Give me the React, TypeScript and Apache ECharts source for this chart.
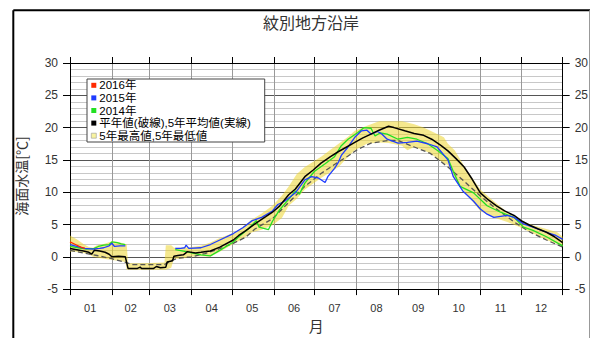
import React, { useEffect, useRef } from 'react';
import * as echarts from 'echarts';

// ---- axis / tick data ----
const MONTH_LABELS = ['01', '02', '03', '04', '05', '06', '07', '08', '09', '10', '11', '12'];
const MONTH_START_DAYS = [0, 31, 59, 90, 120, 151, 181, 212, 243, 273, 304, 334, 365];
const MONTH_MID_DAYS = [15, 45, 74, 105, 135, 166, 196, 227, 258, 288, 319, 349];
const DAY_COUNT = 366;
const Y_MIN = -5;
const Y_MAX = 30;
const Y_STEP = 5;

// ---- series data: [dayOfYear, seaSurfaceTemp] ----
const RED_2016 = [[0, 2.3], [4, 1.9], [8, 1.5], [11, 1.3]];

const BLUE_2015_WINTER = [[0, 1.9], [5, 1.6], [11, 1.3], [17, 1.2], [22, 1.3], [25, 1.4], [29, 1.7], [31, 2.1], [33, 1.6], [37, 1.7], [41, 1.7]];
const BLUE_2015_MAIN = [[78, 1.3], [82, 1.3], [85, 1.4], [86, 1.8], [88, 1.3], [97, 1.4], [104, 1.9], [111, 2.6], [121, 3.6], [128, 4.5], [135, 5.6], [142, 6.1], [150, 7.1], [154, 8.1], [159, 8.6], [167, 9.9], [174, 11.9], [179, 12.4], [184, 12.2], [189, 11.5], [191, 12.4], [196, 13.7], [199, 14.7], [201, 15.7], [206, 17.0], [211, 18.5], [216, 19.5], [220, 19.6], [223, 19.0], [228, 19.4], [231, 19.0], [235, 18.2], [243, 17.6], [250, 17.7], [257, 17.9], [265, 17.5], [272, 17.0], [280, 15.0], [284, 12.4], [291, 10.2], [299, 8.6], [304, 7.4], [309, 6.6], [314, 6.1], [324, 6.4], [329, 6.1], [336, 5.1], [343, 4.6], [353, 3.8], [360, 3.3], [365, 2.7]];

const GREEN_2014_WINTER = [[0, 1.6], [6, 1.4], [12, 1.2], [18, 1.3], [21, 1.6], [25, 1.8], [29, 1.9], [31, 2.3], [35, 2.2], [38, 2.0], [41, 1.9]];
const GREEN_2014_MAIN = [[78, 1.1], [86, 0.8], [97, 0.3], [104, 0.15], [111, 1.0], [121, 2.3], [125, 3.1], [132, 4.3], [138, 5.6], [140, 4.6], [147, 4.2], [150, 5.5], [155, 7.2], [162, 8.9], [167, 10.2], [170, 9.7], [174, 11.4], [181, 13.2], [189, 14.4], [196, 15.5], [201, 17.2], [206, 18.2], [213, 19.2], [218, 20.0], [223, 19.9], [226, 18.7], [230, 19.2], [235, 19.0], [243, 18.2], [250, 18.5], [257, 18.2], [265, 17.5], [272, 16.5], [280, 15.2], [284, 13.2], [289, 10.9], [294, 10.4], [299, 9.9], [309, 7.9], [319, 6.9], [329, 6.1], [336, 4.6], [343, 4.1], [353, 3.1], [365, 1.7]];

const MEAN_5Y = [[0, 1.3], [5, 1.1], [10, 0.9], [14, 0.7], [16, 0.4], [18, 1.0], [22, 0.9], [26, 0.7], [29, 0.4], [31, 0.0], [36, 0.1], [41, 0.0], [43, -1.8], [50, -1.8], [52, -1.6], [53, -1.8], [62, -1.8], [64, -1.5], [67, -1.7], [71, -1.6], [72, -0.8], [76, -0.6], [77, 0.1], [80, 0.2], [84, 0.3], [87, 0.8], [93, 0.6], [97, 0.7], [104, 0.9], [111, 1.5], [121, 2.6], [125, 3.3], [130, 4.0], [137, 5.1], [145, 6.2], [150, 6.9], [155, 7.8], [162, 9.6], [167, 10.5], [174, 12.4], [180, 13.4], [186, 14.5], [193, 15.5], [199, 16.3], [205, 17.0], [211, 17.7], [217, 18.4], [223, 19.0], [229, 19.6], [236, 20.2], [240, 20.0], [248, 19.5], [255, 19.1], [262, 18.8], [268, 18.2], [275, 17.2], [280, 16.4], [286, 15.2], [292, 13.9], [298, 12.0], [304, 9.9], [310, 8.8], [316, 7.9], [322, 7.1], [329, 6.4], [335, 5.5], [341, 4.85], [347, 4.3], [353, 3.8], [359, 3.1], [365, 2.2]];

const NORMAL = [[0, 1.0], [10, 0.6], [20, 0.2], [31, -0.3], [40, -0.8], [46, -1.2], [70, -1.2], [75, -0.6], [80, -0.2], [90, 0.0], [100, 0.5], [110, 1.2], [120, 2.0], [130, 3.0], [137, 4.3], [150, 5.9], [162, 8.4], [174, 10.9], [186, 12.9], [199, 14.7], [206, 15.6], [213, 16.6], [223, 17.6], [236, 18.0], [243, 18.0], [255, 17.0], [267, 16.0], [280, 13.9], [292, 11.7], [304, 9.4], [316, 7.4], [329, 5.4], [341, 3.8], [353, 2.6], [365, 1.5]];

const BAND_DAYS = [0, 5, 10, 14, 17, 20, 25, 31, 36, 41, 42, 43, 55, 70, 71, 75, 77, 82, 90, 97, 104, 111, 121, 128, 135, 142, 150, 157, 162, 168, 174, 186, 199, 206, 211, 220, 229, 236, 246, 250, 255, 262, 267, 277, 280, 285, 294, 304, 314, 324, 333, 343, 353, 361, 365];
const BAND_MIN = [0.8, 0.8, 0.6, 0.4, 0.0, -0.1, -0.3, -0.5, -0.6, -0.8, -2.0, -2.0, -2.0, -2.0, -2.0, -1.7, -0.3, -0.3, 0.0, 0.1, 0.0, 0.8, 2.0, 2.8, 3.8, 4.2, 4.9, 6.0, 7.9, 9.0, 10.4, 12.2, 13.9, 15.5, 16.5, 17.5, 17.7, 17.6, 17.2, 16.5, 17.0, 16.5, 16.0, 14.5, 14.2, 12.0, 9.6, 7.1, 6.1, 5.4, 4.6, 3.6, 2.6, 2.0, 1.6];
const BAND_MAX = [3.3, 2.7, 2.0, 1.5, 1.4, 1.8, 2.0, 2.4, 2.3, 2.0, 2.0, -1.0, -1.0, -0.9, 1.8, 1.8, 1.4, 1.4, 1.5, 1.7, 2.2, 2.9, 3.7, 4.6, 5.8, 6.7, 7.9, 9.5, 10.9, 12.8, 13.9, 15.5, 17.5, 18.6, 19.5, 20.3, 21.0, 21.0, 21.0, 20.8, 20.5, 20.0, 19.5, 18.5, 17.5, 16.5, 13.4, 10.4, 8.6, 6.9, 5.6, 4.9, 4.3, 3.8, 3.1];

const NAME_2016 = '2016年';
const NAME_2015 = '2015年';
const NAME_2014 = '2014年';
const NAME_MEAN = '平年値(破線),5年平均値(実線)';
const NAME_BAND = '5年最高値,5年最低値';

const C_RED = '#ff2a00';
const C_BLUE = '#1f3cff';
const C_GREEN = '#22e022';
const C_BLACK = '#000000';
const C_BAND = 'rgba(236,214,48,0.55)';
const C_BAND_ICON = '#f8f3a0';

const FONT = "'Liberation Sans', 'Noto Sans CJK JP', sans-serif";
const CJK = "'Noto Sans CJK JP', sans-serif";

function withGap(a: number[][], b: number[][]) {
  return [...a, [Math.round((a[a.length - 1][0] + b[0][0]) / 2), null], ...b];
}

export default function App() {
  const ref = useRef<HTMLDivElement>(null);
  useEffect(() => {
    const chart = echarts.init(ref.current!, null, { renderer: 'svg' });
    const days = Array.from({ length: DAY_COUNT }, (_, i) => String(i));
    const startSet = new Set(MONTH_START_DAYS);
    const midMap = new Map(MONTH_MID_DAYS.map((d, i) => [d, MONTH_LABELS[i]]));
    const bandLow = BAND_DAYS.map((d, i) => [d, BAND_MIN[i]]);
    const bandSpan = BAND_DAYS.map((d, i) => [d, +(BAND_MAX[i] - BAND_MIN[i]).toFixed(2)]);

    const yAxisBase = {
      type: 'value',
      min: Y_MIN,
      max: Y_MAX,
      interval: Y_STEP,
      axisLine: { show: true, lineStyle: { color: '#000', width: 1 } },
      axisTick: { show: true, inside: false, length: 7, lineStyle: { color: '#000' } },
      axisLabel: { color: '#333', fontSize: 12, margin: 12, fontFamily: FONT },
    };

    const option = {
      animation: false,
      backgroundColor: '#fff',
      title: {
        text: '紋別地方沿岸',
        left: 263,
        top: 14,
        padding: 0,
        textStyle: { fontSize: 16, fontWeight: 'normal', color: '#333', fontFamily: CJK },
      },
      legend: {
        orient: 'vertical',
        left: 87,
        top: 79,
        padding: [0, 14, 0, 4],
        itemWidth: 5,
        itemHeight: 5,
        itemGap: 0,
        icon: 'rect',
        selectedMode: false,
        backgroundColor: '#fff',
        borderColor: '#444',
        borderWidth: 1,
        textStyle: { fontSize: 11.5, lineHeight: 12.6, color: '#000', fontFamily: FONT, padding: [0, 0, 0, -2] },
        data: [
          { name: NAME_2016, itemStyle: { color: C_RED } },
          { name: NAME_2015, itemStyle: { color: C_BLUE } },
          { name: NAME_2014, itemStyle: { color: C_GREEN } },
          { name: NAME_MEAN, itemStyle: { color: C_BLACK } },
          { name: NAME_BAND, itemStyle: { color: C_BAND_ICON, borderColor: '#999', borderWidth: 0.6 } },
        ],
      },
      grid: { left: 70, right: 25, top: 63, bottom: 43, containLabel: false },
      xAxis: [
        {
          type: 'category',
          data: days,
          boundaryGap: false,
          position: 'bottom',
          name: '月',
          nameLocation: 'middle',
          nameGap: 27,
          nameTextStyle: { fontSize: 15, color: '#333', fontFamily: CJK },
          axisLine: { show: true, onZero: false, lineStyle: { color: '#000' } },
          axisTick: { show: true, length: 6, interval: (i: number) => startSet.has(i), lineStyle: { color: '#000' } },
          axisLabel: {
            show: true,
            interval: (i: number) => midMap.has(i),
            formatter: (v: string) => midMap.get(Number(v)) ?? '',
            color: '#333',
            fontSize: 11,
            margin: 13,
            fontFamily: FONT,
          },
          splitLine: { show: true, interval: (i: number) => startSet.has(i), lineStyle: { color: '#999', width: 1 } },
        },
        {
          type: 'category',
          data: days,
          boundaryGap: false,
          position: 'top',
          axisLine: { show: true, onZero: false, lineStyle: { color: '#000' } },
          axisTick: { show: true, length: 6, interval: (i: number) => startSet.has(i), lineStyle: { color: '#000' } },
          axisLabel: { show: false },
          splitLine: { show: false },
        },
      ],
      yAxis: [
        {
          ...yAxisBase,
          position: 'left',
          name: '海面水温[℃]',
          nameLocation: 'middle',
          nameRotate: 90,
          nameGap: 42,
          nameTextStyle: { fontSize: 14, color: '#333', fontFamily: CJK },
          splitLine: { show: true, lineStyle: { color: '#555', width: 1 } },
          minorTick: { show: false, splitNumber: 5 },
          minorSplitLine: { show: true, lineStyle: { color: '#c8c8c8', width: 1 } },
        },
        {
          ...yAxisBase,
          position: 'right',
          splitLine: { show: false },
        },
      ],
      graphic: [
        { type: 'line', shape: { x1: 13.3, y1: 10.3, x2: 590, y2: 10.3 }, style: { stroke: '#000', lineWidth: 2 }, silent: true },
        { type: 'line', shape: { x1: 13.3, y1: 10.3, x2: 13.3, y2: 340 }, style: { stroke: '#000', lineWidth: 2 }, silent: true },
        { type: 'line', shape: { x1: 589.5, y1: 10.3, x2: 589.5, y2: 340 }, style: { stroke: '#999', lineWidth: 1 }, silent: true },
      ],
      series: [
        {
          name: 'band-low',
          type: 'line',
          stack: 'band',
          stackStrategy: 'all',
          data: bandLow,
          symbol: 'none',
          lineStyle: { opacity: 0 },
          silent: true,
          z: 1,
        },
        {
          name: NAME_BAND,
          type: 'line',
          stack: 'band',
          stackStrategy: 'all',
          data: bandSpan,
          symbol: 'none',
          lineStyle: { opacity: 0 },
          areaStyle: { color: C_BAND, opacity: 1 },
          itemStyle: { color: C_BAND_ICON },
          silent: true,
          z: 1,
        },
        {
          name: 'normal',
          type: 'line',
          data: NORMAL,
          symbol: 'none',
          lineStyle: { color: '#555', width: 1.3, type: [5, 3] },
          itemStyle: { color: '#555' },
          z: 2,
        },
        {
          name: NAME_2014,
          type: 'line',
          data: withGap(GREEN_2014_WINTER, GREEN_2014_MAIN),
          symbol: 'none',
          connectNulls: false,
          lineStyle: { color: C_GREEN, width: 1.3 },
          itemStyle: { color: C_GREEN },
          z: 3,
        },
        {
          name: NAME_2015,
          type: 'line',
          data: withGap(BLUE_2015_WINTER, BLUE_2015_MAIN),
          symbol: 'none',
          connectNulls: false,
          lineStyle: { color: C_BLUE, width: 1.3 },
          itemStyle: { color: C_BLUE },
          z: 4,
        },
        {
          name: NAME_2016,
          type: 'line',
          data: RED_2016,
          symbol: 'none',
          lineStyle: { color: C_RED, width: 1.3 },
          itemStyle: { color: C_RED },
          z: 5,
        },
        {
          name: NAME_MEAN,
          type: 'line',
          data: MEAN_5Y,
          symbol: 'none',
          lineStyle: { color: C_BLACK, width: 1.5 },
          itemStyle: { color: C_BLACK },
          z: 4,
        },
      ],
    };
    chart.setOption(option as any);
    return () => chart.dispose();
  }, []);
  return (
    <div
      ref={ref}
      style={{ position: 'fixed', left: 0, top: 0, width: 591, height: 338, background: '#fff' }}
    />
  );
}
